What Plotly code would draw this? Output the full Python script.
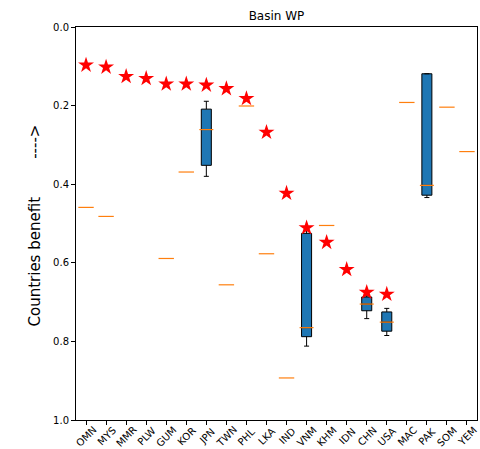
import plotly.graph_objects as go

countries = ["OMN", "MYS", "MMR", "PLW", "GUM", "KOR", "JPN", "TWN", "PHL", "LKA",
             "IND", "VNM", "KHM", "IDN", "CHN", "USA", "MAC", "PAK", "SOM", "YEM"]

# red stars (basin value)
star_values = [0.097, 0.102, 0.126, 0.131, 0.145, 0.145, 0.148, 0.157, 0.182, 0.268,
               0.423, 0.511, 0.548, 0.617, 0.675, 0.680, None, None, None, None]

# countries with a spread of values (box plots)
box_countries = ["JPN", "VNM", "CHN", "USA", "PAK"]
box_low = [0.189, 0.517, 0.684, 0.716, 0.119]
box_q1 = [0.209, 0.525, 0.687, 0.725, 0.119]
box_median = [0.261, 0.765, 0.705, 0.751, 0.403]
box_q3 = [0.352, 0.788, 0.722, 0.774, 0.428]
box_high = [0.380, 0.812, 0.742, 0.785, 0.434]

# countries with a single value (median line only)
single_countries = ["OMN", "MYS", "GUM", "KOR", "TWN", "PHL", "LKA", "IND", "KHM", "MAC", "SOM", "YEM"]
single_values = [0.459, 0.482, 0.589, 0.369, 0.656, 0.201, 0.577, 0.893, 0.505, 0.192, 0.204, 0.317]

yticks = [0.0, 0.2, 0.4, 0.6, 0.8, 1.0]

fig = go.Figure()

fig.add_trace(go.Box(
    x=box_countries, q1=box_q1, median=box_median, q3=box_q3,
    lowerfence=box_low, upperfence=box_high, orientation="v",
    fillcolor="#1f77b4", line=dict(color="black", width=1),
    width=0.5, whiskerwidth=0.5, boxpoints=False, showlegend=False,
    hoverinfo="skip"))

fig.add_trace(go.Scatter(
    x=box_countries, y=box_median, mode="markers",
    marker=dict(symbol="line-ew", size=10, line=dict(color="#ff7f0e", width=1.2)),
    showlegend=False))

fig.add_trace(go.Scatter(
    x=single_countries, y=single_values, mode="markers",
    marker=dict(symbol="line-ew", size=11, line=dict(color="#ff7f0e", width=1.2)),
    showlegend=False))

fig.add_trace(go.Scatter(
    x=countries, y=star_values, mode="markers",
    marker=dict(symbol="star", size=12, color="red", line=dict(width=0)),
    showlegend=False))

font = "DejaVu Sans"
annotations = []
for c in countries:
    annotations.append(dict(x=c, xref="x", y=0, yref="paper", yshift=-16,
                            text=c, showarrow=False, textangle=-45,
                            xanchor="center", yanchor="middle",
                            font=dict(family=font, size=10, color="black")))
annotations.append(dict(x=0, xref="paper", xshift=-42, y=0.5, yref="paper", yshift=-2,
                        text="Countries benefit        ---->", showarrow=False, textangle=-90,
                        xanchor="center", yanchor="middle",
                        font=dict(family=font, size=15, color="black")))

fig.update_layout(
    width=480, height=449,
    margin=dict(l=76, r=3, t=27, b=29),
    paper_bgcolor="white", plot_bgcolor="white",
    title=dict(text="Basin WP", x=0.576, xanchor="center", y=0.965, yanchor="middle",
               font=dict(family=font, size=12, color="black")),
    annotations=annotations,
    xaxis=dict(type="category", categoryorder="array", categoryarray=countries,
               range=[-0.5, 19.5], showticklabels=False, ticks="outside", ticklen=4,
               tickcolor="black", showline=True, linecolor="black", linewidth=1,
               mirror=True, showgrid=False, zeroline=False),
    yaxis=dict(range=[1.0, 0.0], tickvals=yticks, ticktext=[f"{v:.1f}" for v in yticks],
               ticks="outside", ticklen=4, tickcolor="black",
               tickfont=dict(family=font, size=10, color="black"),
               showline=True, linecolor="black", linewidth=1, mirror=True,
               showgrid=False, zeroline=False),
)

fig.write_html("out.html", config={"displayModeBar": False},
               post_script="document.body.style.margin='0';")
